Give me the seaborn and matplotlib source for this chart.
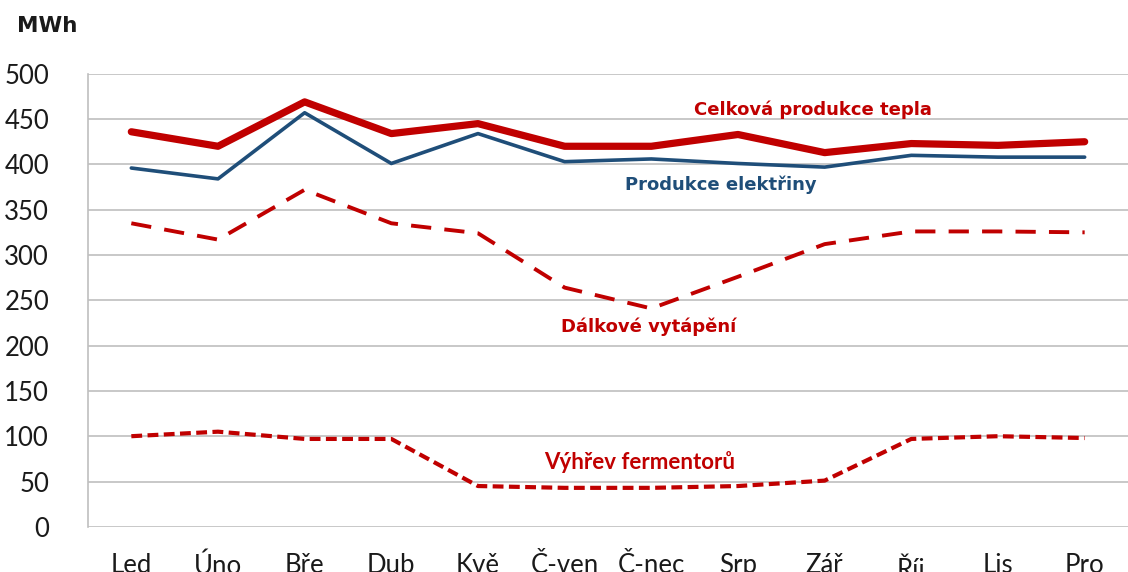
import matplotlib
matplotlib.use("Agg")
import matplotlib.pyplot as plt
import seaborn as sns
import pandas as pd

months = ["Led", "Úno", "Bře", "Dub", "Kvě", "Č-ven", "Č-nec", "Srp", "Zář", "Říj", "Lis", "Pro"]
celkova = [436, 420, 469, 434, 445, 420, 420, 433, 413, 423, 421, 425]
elektrina = [396, 384, 457, 401, 434, 403, 406, 401, 397, 410, 408, 408]
dalkove = [335, 317, 372, 335, 324, 264, 241, 276, 312, 326, 326, 325]
vyhrev = [100, 105, 97, 97, 45, 43, 43, 45, 51, 97, 100, 98]
yticks = [0, 50, 100, 150, 200, 250, 300, 350, 400, 450, 500]

sns.set_theme(style="white")
plt.rcParams['font.family'] = ['Lato', 'DejaVu Sans']

RED = "#C00000"
BLUE = "#1F4E79"

fig = plt.figure(figsize=(11.28, 5.72), dpi=100)
ax = fig.add_axes([0.078, 0.079, 0.922, 0.792])

df = pd.DataFrame({"month": months, "celkova": celkova, "elektrina": elektrina,
                   "dalkove": dalkove, "vyhrev": vyhrev})

sns.lineplot(data=df, x="month", y="vyhrev", ax=ax, color=RED, lw=3.0, sort=False)
ax.lines[-1].set_dashes([2.6, 1.3])
sns.lineplot(data=df, x="month", y="dalkove", ax=ax, color=RED, lw=2.8, sort=False)
ax.lines[-1].set_dashes([5.2, 3.4])
sns.lineplot(data=df, x="month", y="elektrina", ax=ax, color=BLUE, lw=2.6, sort=False)
sns.lineplot(data=df, x="month", y="celkova", ax=ax, color=RED, lw=5.2, sort=False)
for ln in ax.lines:
    ln.set_solid_capstyle("round")
    ln.set_dash_capstyle("butt")

ax.set_xlim(-0.5, 11.5)
ax.set_ylim(0, 500)
ax.set_yticks(yticks)
ax.set_yticklabels([str(v) for v in yticks], fontsize=18.5, color="#1a1a1a")
ax.set_xticks(range(len(months)))
ax.set_xticklabels(months, fontsize=18.5, color="#1a1a1a")
ax.tick_params(axis="x", length=0, pad=19)
ax.tick_params(axis="y", length=0, pad=28)
ax.set_xlabel("")
ax.set_ylabel("")
ax.yaxis.grid(True, color="#BFBFBF", lw=1.2)
ax.xaxis.grid(False)
for s in ["top", "right", "bottom"]:
    ax.spines[s].set_visible(False)
ax.spines["left"].set_color("#BFBFBF")
ax.spines["left"].set_linewidth(1.2)
ax.set_axisbelow(True)

fig.text(0.015, 0.955, "MWh", fontsize=15.5, fontweight="bold", color="#1a1a1a",
         family=["DejaVu Sans"], va="center", ha="left")

ax.text(7.86, 460, "Celková produkce tepla", color=RED, fontsize=13,
        fontweight="bold", family=["DejaVu Sans"], ha="center", va="center")
ax.text(6.80, 377, "Produkce elektřiny", color=BLUE, fontsize=13,
        fontweight="bold", family=["DejaVu Sans"], ha="center", va="center")
ax.text(5.97, 221, "Dálkové vytápění", color=RED, fontsize=13,
        fontweight="bold", family=["DejaVu Sans"], ha="center", va="center")
ax.text(5.87, 72, "Výhřev fermentorů", color=RED, fontsize=16,
        fontweight="bold", family=["Lato", "DejaVu Sans"], ha="center", va="center")

fig.savefig("out.png", dpi=100)
